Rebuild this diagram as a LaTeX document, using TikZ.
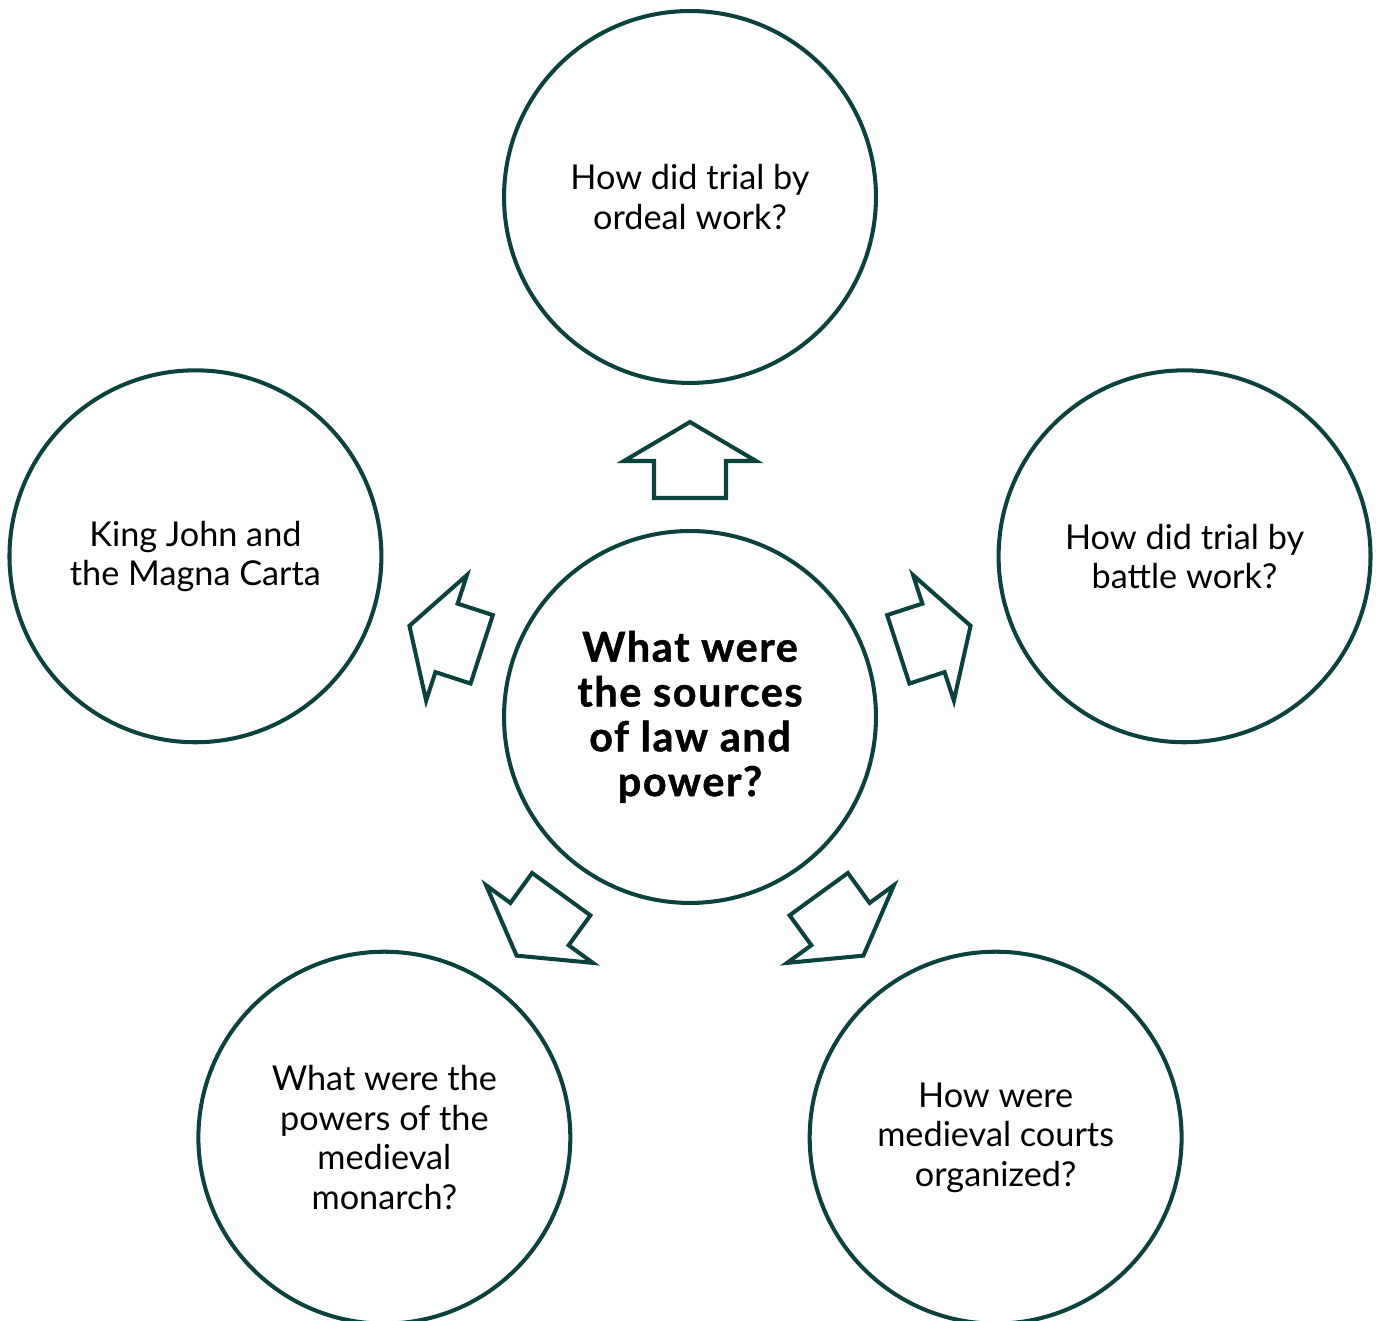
\documentclass[tikz,border=0pt]{standalone}
\usepackage{fontspec}
\setmainfont{Lato}
\usetikzlibrary{calc}
\definecolor{tealdark}{HTML}{0A423D}
\tikzset{topic/.style={circle,draw=tealdark,line width=2.3pt,minimum size=7.44cm,inner sep=0pt,align=center,font=\fontsize{19.5}{22.5}\selectfont}}
\tikzset{hub/.style={topic,font=\bfseries\fontsize{23.5}{25.5}\selectfont\addfontfeature{FakeBold=1.2,LetterSpace=4}}}
\tikzset{blockarrow/.style={draw=tealdark,line width=2.3pt,fill=white,line join=miter}}

\begin{document}
\begin{tikzpicture}[x=0.02cm,y=0.02cm]
  \useasboundingbox (0,0) rectangle (1377,1321);
  \node[hub] (hub) at (690,604) {What were\\the sources\\of law and\\power?};
  \node[topic] (ordeal) at ($(hub)+(90:520)$) {How did trial by\\ordeal work?};
  \node[topic] (battle) at ($(hub)+(18:520)$) {How did trial by\\battle work?};
  \node[topic] (courts) at ($(hub)+(-54:520)$) {How were\\medieval courts\\organized?};
  \node[topic] (monarch) at ($(hub)+(-126:520)$) {What were the\\powers of the\\medieval\\monarch?};
  \node[topic] (carta) at ($(hub)+(162:520)$) {King John and\\the Magna Carta};
  % outlined arrows pointing away from the hub
  \foreach \a in {90,18,-54,-126,162}
    \draw[blockarrow,shift={(hub.center)},rotate=\a]
      (219,-36) -- (256,-36) -- (256,-66) -- (295,0) -- (256,66) -- (256,36) -- (219,36) -- cycle;
\end{tikzpicture}
\end{document}
